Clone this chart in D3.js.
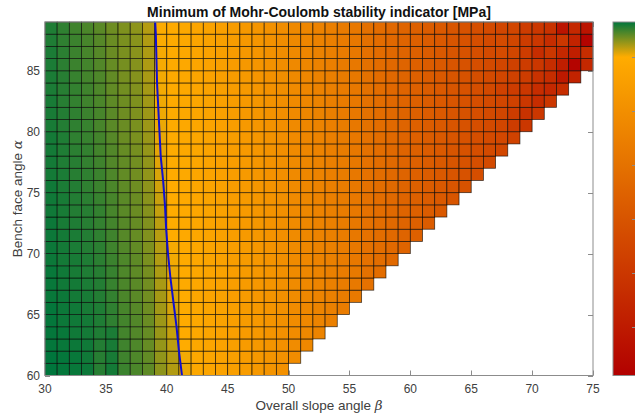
<!DOCTYPE html>
<html>
<head>
<meta charset="utf-8">
<script src="https://cdn.jsdelivr.net/npm/d3@7"></script>
<style>
body { margin: 0; background: #fff; }
text { font-family: "Liberation Sans", Arial, sans-serif; }
</style>
</head>
<body>
<div id="chart"></div>
<script>
var betaTicks = [30, 35, 40, 45, 50, 55, 60, 65, 70, 75];
var alphaTicks = [60, 65, 70, 75, 80, 85];
var colorTicks = [0, -1, -2, -3, -4, -5];
var colorMin = -5.9;
var colorMax = 0.65;

// first column of every row is beta = 30, one column per degree
var betaFirst = 30;
var alphaRows = [60, 61, 62, 63, 64, 65, 66, 67, 68, 69, 70, 71, 72, 73, 74, 75, 76, 77, 78, 79, 80, 81, 82, 83, 84, 85, 86, 87, 88];

// minimum stability indicator [MPa], one row per bench face angle
var stability = [
  [.65,.64,.63,.62,.55,.60,.50,.46,.41,.29,.20,.05,-.13,-.23,-.33,-.44,-.56,-.68,-.81,-.94],
  [.65,.64,.63,.61,.55,.59,.49,.45,.40,.28,.19,.03,-.13,-.23,-.33,-.44,-.56,-.68,-.81,-.94,-1.10],
  [.64,.63,.62,.61,.56,.59,.49,.45,.39,.27,.17,.00,-.14,-.24,-.34,-.45,-.57,-.69,-.82,-.95,-1.11,-1.24],
  [.64,.63,.61,.60,.57,.58,.48,.44,.39,.26,.15,-.02,-.14,-.24,-.34,-.45,-.57,-.69,-.82,-.95,-1.11,-1.24,-1.37],
  [.64,.62,.61,.60,.57,.53,.48,.44,.38,.25,.13,-.03,-.15,-.25,-.35,-.46,-.58,-.70,-.83,-.96,-1.11,-1.24,-1.37,-1.50],
  [.64,.62,.61,.59,.57,.53,.47,.43,.37,.24,.11,-.04,-.15,-.25,-.35,-.46,-.58,-.70,-.83,-.96,-1.12,-1.25,-1.37,-1.50,-1.63],
  [.63,.62,.60,.59,.56,.52,.46,.42,.36,.23,.09,-.05,-.16,-.26,-.36,-.47,-.59,-.71,-.84,-.97,-1.12,-1.25,-1.38,-1.51,-1.63,-1.76],
  [.63,.61,.60,.58,.56,.51,.46,.42,.36,.22,.07,-.06,-.16,-.26,-.36,-.47,-.59,-.71,-.84,-.97,-1.13,-1.25,-1.38,-1.51,-1.64,-1.76,-2.02],
  [.63,.61,.59,.57,.55,.51,.45,.41,.35,.21,.05,-.07,-.16,-.26,-.36,-.47,-.59,-.71,-.84,-.97,-1.13,-1.26,-1.38,-1.51,-1.64,-1.76,-2.02,-2.16],
  [.62,.60,.59,.57,.54,.50,.45,.41,.34,.20,.03,-.08,-.17,-.27,-.37,-.48,-.60,-.72,-.85,-.98,-1.13,-1.26,-1.39,-1.51,-1.64,-1.77,-2.02,-2.16,-2.31],
  [.62,.60,.58,.56,.54,.49,.44,.40,.33,.19,.02,-.09,-.17,-.27,-.37,-.48,-.60,-.72,-.85,-.98,-1.14,-1.26,-1.39,-1.52,-1.64,-1.77,-2.02,-2.16,-2.31,-2.46],
  [.62,.60,.58,.56,.53,.49,.43,.39,.32,.18,.00,-.10,-.18,-.28,-.38,-.49,-.61,-.73,-.86,-.99,-1.14,-1.27,-1.39,-1.52,-1.64,-1.77,-2.03,-2.17,-2.31,-2.46,-2.60],
  [.62,.59,.57,.55,.52,.48,.43,.39,.32,.17,-.01,-.10,-.18,-.28,-.38,-.49,-.61,-.73,-.86,-.99,-1.14,-1.27,-1.39,-1.52,-1.65,-1.77,-2.03,-2.17,-2.31,-2.46,-2.60,-2.73],
  [.61,.59,.56,.55,.52,.47,.42,.38,.31,.15,-.02,-.11,-.19,-.29,-.39,-.50,-.62,-.74,-.87,-1.00,-1.15,-1.27,-1.40,-1.52,-1.65,-1.77,-2.03,-2.17,-2.31,-2.46,-2.60,-2.73,-2.86],
  [.61,.59,.56,.54,.51,.47,.42,.38,.30,.14,-.02,-.11,-.19,-.29,-.39,-.50,-.62,-.74,-.87,-1.00,-1.15,-1.28,-1.40,-1.53,-1.65,-1.78,-2.03,-2.17,-2.31,-2.46,-2.60,-2.73,-2.86,-2.98],
  [.61,.58,.56,.53,.50,.46,.41,.37,.29,.12,-.03,-.12,-.19,-.29,-.39,-.50,-.62,-.74,-.87,-1.00,-1.15,-1.28,-1.40,-1.53,-1.65,-1.78,-2.03,-2.17,-2.31,-2.46,-2.60,-2.73,-2.86,-2.98,-3.10],
  [.60,.58,.55,.53,.50,.45,.40,.36,.28,.10,-.03,-.12,-.20,-.30,-.40,-.51,-.63,-.75,-.88,-1.01,-1.16,-1.28,-1.41,-1.53,-1.65,-1.78,-2.03,-2.17,-2.31,-2.46,-2.60,-2.73,-2.86,-2.98,-3.10,-3.22],
  [.60,.57,.55,.52,.49,.44,.40,.36,.28,.08,-.04,-.12,-.20,-.30,-.40,-.51,-.63,-.75,-.88,-1.01,-1.16,-1.28,-1.41,-1.53,-1.66,-1.78,-2.03,-2.17,-2.31,-2.46,-2.60,-2.73,-2.86,-2.98,-3.10,-3.22,-3.35],
  [.60,.57,.54,.52,.48,.44,.39,.35,.27,.07,-.04,-.13,-.21,-.31,-.41,-.52,-.64,-.76,-.89,-1.02,-1.16,-1.29,-1.41,-1.53,-1.66,-1.78,-2.04,-2.17,-2.31,-2.46,-2.60,-2.73,-2.86,-2.98,-3.10,-3.22,-3.35,-3.48],
  [.60,.57,.53,.51,.48,.43,.38,.34,.26,.06,-.05,-.13,-.21,-.31,-.41,-.52,-.64,-.76,-.89,-1.02,-1.17,-1.29,-1.41,-1.54,-1.66,-1.78,-2.04,-2.17,-2.31,-2.46,-2.60,-2.73,-2.86,-2.98,-3.10,-3.22,-3.35,-3.48,-3.62],
  [.59,.56,.53,.51,.47,.42,.38,.34,.25,.05,-.05,-.13,-.22,-.32,-.42,-.53,-.65,-.77,-.90,-1.03,-1.17,-1.29,-1.42,-1.54,-1.66,-1.79,-2.04,-2.17,-2.31,-2.46,-2.60,-2.73,-2.86,-2.98,-3.10,-3.22,-3.35,-3.50,-3.84,-4.00],
  [.59,.56,.53,.50,.47,.42,.37,.33,.25,.04,-.05,-.14,-.22,-.32,-.42,-.53,-.65,-.77,-.90,-1.03,-1.17,-1.30,-1.42,-1.54,-1.67,-1.79,-2.04,-2.17,-2.31,-2.46,-2.60,-2.73,-2.86,-2.98,-3.10,-3.22,-3.35,-3.50,-3.84,-4.20,-4.00],
  [.59,.55,.52,.49,.46,.41,.37,.33,.24,.04,-.06,-.14,-.22,-.32,-.42,-.53,-.65,-.77,-.90,-1.03,-1.18,-1.30,-1.42,-1.55,-1.67,-1.79,-2.04,-2.17,-2.32,-2.46,-2.60,-2.73,-2.86,-2.98,-3.10,-3.22,-3.35,-3.50,-3.67,-4.00,-4.36,-4.00],
  [.58,.55,.52,.49,.45,.40,.36,.32,.23,.03,-.06,-.14,-.23,-.33,-.43,-.54,-.66,-.78,-.91,-1.04,-1.18,-1.30,-1.43,-1.55,-1.67,-1.79,-2.04,-2.17,-2.32,-2.46,-2.60,-2.73,-2.86,-2.98,-3.10,-3.22,-3.40,-3.67,-3.84,-4.00,-4.36,-4.53,-4.36],
  [.58,.55,.51,.48,.45,.40,.35,.31,.22,.03,-.07,-.14,-.23,-.33,-.43,-.54,-.66,-.78,-.91,-1.04,-1.19,-1.31,-1.43,-1.55,-1.67,-1.79,-2.04,-2.18,-2.32,-2.46,-2.60,-2.73,-2.86,-2.98,-3.10,-3.22,-3.35,-3.50,-3.67,-3.84,-4.20,-4.36,-5.04,-4.70],
  [.58,.54,.50,.48,.44,.39,.35,.31,.21,.02,-.07,-.15,-.24,-.34,-.44,-.55,-.67,-.79,-.92,-1.05,-1.19,-1.31,-1.43,-1.55,-1.67,-1.80,-2.05,-2.18,-2.32,-2.46,-2.60,-2.73,-2.86,-2.98,-3.10,-3.22,-3.35,-3.50,-3.67,-3.84,-4.00,-4.36,-4.87,-5.75,-4.53],
  [.58,.54,.50,.47,.43,.38,.34,.30,.21,.02,-.07,-.15,-.24,-.34,-.44,-.55,-.67,-.79,-.92,-1.05,-1.20,-1.32,-1.44,-1.56,-1.68,-1.80,-2.05,-2.18,-2.32,-2.46,-2.60,-2.73,-2.86,-2.98,-3.10,-3.22,-3.35,-3.33,-3.50,-3.84,-4.36,-4.00,-4.53,-4.87,-4.36],
  [.57,.53,.50,.47,.43,.38,.34,.30,.20,.01,-.08,-.15,-.25,-.35,-.45,-.56,-.68,-.80,-.93,-1.06,-1.20,-1.32,-1.44,-1.56,-1.68,-1.80,-2.05,-2.18,-2.32,-2.46,-2.60,-2.73,-2.86,-2.98,-3.10,-3.22,-3.35,-3.33,-3.50,-3.84,-4.00,-4.36,-4.00,-4.70,-5.75],
  [.57,.53,.49,.46,.42,.37,.33,.29,.19,.01,-.08,-.15,-.25,-.35,-.45,-.56,-.68,-.80,-.93,-1.06,-1.20,-1.32,-1.44,-1.56,-1.68,-1.80,-2.05,-2.18,-2.32,-2.46,-2.60,-2.73,-2.86,-2.98,-3.10,-3.22,-3.35,-3.50,-3.50,-3.84,-4.00,-4.20,-5.21,-4.53,-5.21]
];

// zero level of the indicator
var contourAlpha = [60, 62, 64, 66, 68, 70, 72, 74, 76, 78, 80, 82, 84, 86, 88, 89];
var contourBeta = [41.25, 41.0, 40.8, 40.55, 40.3, 40.1, 39.95, 39.85, 39.7, 39.5, 39.4, 39.3, 39.2, 39.15, 39.1, 39.05];

var width = 635;
var height = 420;
var plotLeft = 45, plotRight = 593, plotTop = 22, plotBottom = 375.5;
var barLeft = 613, barRight = 637;
var tickLen = 5;
var axisGray = "#8c8c8c";
var textGray = "#404040";

var svg = d3.select("#chart").append("svg")
  .attr("width", width)
  .attr("height", height);

var xScale = d3.scaleLinear().domain([30, 75]).range([plotLeft, plotRight]);
var yScale = d3.scaleLinear().domain([60, 89]).range([plotBottom, plotTop]);
var colorScale = d3.scaleLinear()
  .domain([colorMin, 0, colorMax])
  .range(["#b20000", "#ffac00", "#00763c"])
  .clamp(true);
var barScale = d3.scaleLinear().domain([colorMin, colorMax]).range([plotBottom, plotTop]);

// ticks go under the cells, like matlab's bottom layer
var ticks = svg.append("g").attr("stroke", axisGray).attr("stroke-width", 1);
betaTicks.forEach(function(b) {
  var x = Math.round(xScale(b)) + 0.5;
  ticks.append("line").attr("x1", x).attr("x2", x).attr("y1", plotBottom).attr("y2", plotBottom - tickLen);
  ticks.append("line").attr("x1", x).attr("x2", x).attr("y1", plotTop).attr("y2", plotTop + tickLen);
});
alphaTicks.forEach(function(a) {
  var y = Math.round(yScale(a)) + 0.5;
  ticks.append("line").attr("x1", plotLeft).attr("x2", plotLeft + tickLen).attr("y1", y).attr("y2", y);
  ticks.append("line").attr("x1", plotRight).attr("x2", plotRight - tickLen).attr("y1", y).attr("y2", y);
});

var cells = [];
stability.forEach(function(row, i) {
  row.forEach(function(v, j) {
    cells.push({ alpha: alphaRows[i], beta: betaFirst + j, value: v });
  });
});

svg.append("g")
  .selectAll("rect")
  .data(cells)
  .join("rect")
  .attr("x", d => xScale(d.beta))
  .attr("y", d => yScale(d.alpha + 1))
  .attr("width", d => xScale(d.beta + 1) - xScale(d.beta))
  .attr("height", d => yScale(d.alpha) - yScale(d.alpha + 1))
  .attr("fill", d => colorScale(d.value))
  .attr("stroke", "#000")
  .attr("stroke-opacity", 0.7)
  .attr("stroke-width", 0.8);

var contourPts = contourAlpha.map((a, i) => [contourBeta[i], a]);
svg.append("path")
  .datum(contourPts)
  .attr("fill", "none")
  .attr("stroke", "#1010d0")
  .attr("stroke-width", 2)
  .attr("d", d3.line().x(d => xScale(d[0])).y(d => yScale(d[1])));

svg.append("rect")
  .attr("x", plotLeft)
  .attr("y", plotTop)
  .attr("width", plotRight - plotLeft)
  .attr("height", plotBottom - plotTop)
  .attr("fill", "none")
  .attr("stroke", axisGray)
  .attr("stroke-width", 1);

// tick labels
svg.append("g")
  .selectAll("text")
  .data(betaTicks)
  .join("text")
  .attr("x", d => xScale(d))
  .attr("y", 393)
  .attr("text-anchor", "middle")
  .attr("font-size", 12)
  .attr("fill", textGray)
  .text(d => d);

svg.append("g")
  .selectAll("text")
  .data(alphaTicks)
  .join("text")
  .attr("x", 40)
  .attr("y", d => yScale(d))
  .attr("dy", "0.35em")
  .attr("text-anchor", "end")
  .attr("font-size", 12)
  .attr("fill", textGray)
  .text(d => d);

svg.append("text")
  .attr("x", (plotLeft + plotRight) / 2)
  .attr("y", 17)
  .attr("text-anchor", "middle")
  .attr("font-size", 14)
  .attr("font-weight", "bold")
  .attr("fill", "#111")
  .text("Minimum of Mohr-Coulomb stability indicator [MPa]");

var xLabel = svg.append("text")
  .attr("x", (plotLeft + plotRight) / 2)
  .attr("y", 410)
  .attr("text-anchor", "middle")
  .attr("font-size", 13.5)
  .attr("fill", textGray);
xLabel.append("tspan").text("Overall slope angle ");
xLabel.append("tspan").attr("font-family", "'DejaVu Serif', serif").attr("font-style", "italic").text("β");

var yLabel = svg.append("text")
  .attr("transform", "translate(22," + ((plotTop + plotBottom) / 2) + ") rotate(-90)")
  .attr("text-anchor", "middle")
  .attr("font-size", 13.5)
  .attr("fill", textGray);
yLabel.append("tspan").text("Bench face angle ");
yLabel.append("tspan").attr("font-family", "'DejaVu Serif', serif").attr("font-style", "italic").text("α");

// colorbar
var grad = svg.append("defs").append("linearGradient")
  .attr("id", "cbar")
  .attr("x1", 0).attr("x2", 0).attr("y1", 1).attr("y2", 0);
var zeroOffset = (0 - colorMin) / (colorMax - colorMin);
var stops = d3.range(0, 21).map(k => k / 20).concat([zeroOffset]).sort((a, b) => a - b);
stops.forEach(function(o) {
  grad.append("stop").attr("offset", o).attr("stop-color", colorScale(colorMin + (colorMax - colorMin) * o));
});

svg.append("rect")
  .attr("x", barLeft)
  .attr("y", plotTop)
  .attr("width", barRight - barLeft)
  .attr("height", plotBottom - plotTop)
  .attr("fill", "url(#cbar)")
  .attr("stroke", axisGray)
  .attr("stroke-width", 1);

svg.append("g")
  .selectAll("line")
  .data(colorTicks)
  .join("line")
  .attr("x1", barRight)
  .attr("x2", barRight - tickLen)
  .attr("y1", d => Math.round(barScale(d)) + 0.5)
  .attr("y2", d => Math.round(barScale(d)) + 0.5)
  .attr("stroke", axisGray)
  .attr("stroke-width", 1);
</script>
</body>
</html>
